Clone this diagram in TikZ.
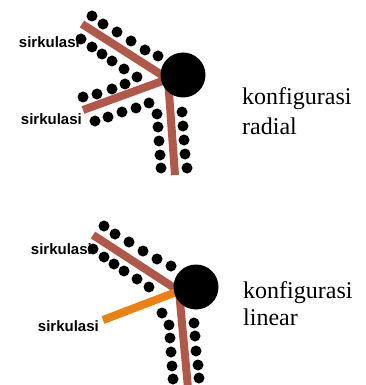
\documentclass[tikz,border=0pt]{standalone}
\usepackage{fontspec}
\setmainfont{Liberation Serif}
\newfontfamily\sirkfont{Liberation Sans}
\usepackage{tikz}
\definecolor{barbrown}{RGB}{176,88,74}
\definecolor{barorange}{RGB}{236,128,16}

\begin{document}
\begin{tikzpicture}[x=1pt, y=-1pt, every node/.style={inner sep=0pt},
	bar/.style={draw=barbrown, line width=8pt},
	hub/.style={circle, fill=black, minimum size=45pt},
	sirk/.style={anchor=east, font=\sirkfont\bfseries\fontsize{15}{17}\selectfont},
	konf/.style={anchor=base west, font=\fontsize{24}{28}\selectfont}]
	\useasboundingbox (0,0) rectangle (365,385);
	% radial
	\coordinate (jA) at (168,79);
	\coordinate (endA1) at (82,24);
	\coordinate (endA2) at (83,110);
	\coordinate (endA3) at (175,175);
	\draw[bar] (endA1) -- (jA);
	\draw[bar] (endA2) -- (jA);
	\draw[bar] (jA) -- (endA3);
	\node[hub] (hubA) at (183,75) {};
	\foreach \x/\y in {92/16,103/24,117/32,131/41,145/50,158/56,
		81/39,92/47,102/54,112/61,124/69,137/77,
		83/97,97/94,112/89,125/84,
		95/121,108/117,122/112,136/108,149/103,
		157/114,158/127,159/141,160/155,161/168,
		182/112,183/126,184/140,185/154,187/168} {\fill (\x,\y) circle (5.5pt);}
	\node[sirk] (sirkA1) at (80,42) {sirkulasi};
	\node[sirk] (sirkA2) at (82,119) {sirkulasi};
	\node[konf] (konfA) at (242,105) {konfigurasi};
	\node[konf] (radial) at (242,134) {radial};
	% linear
	\coordinate (jB) at (179,291);
	\coordinate (endB1) at (93,235);
	\coordinate (endB2) at (103,320);
	\coordinate (endB3) at (188,388);
	\draw[bar] (endB1) -- (jB);
	\draw[bar, draw=barorange] (endB2) -- (jB);
	\draw[bar] (jB) -- (endB3);
	\node[hub] (hubB) at (196,287) {};
	\foreach \x/\y in {104/226,115/234,129/242,143/251,157/259,171/266,
		93/249,104/257,114/264,124/271,137/279,149/287,
		162/313,169/325,170/338,171/352,172/366,173/379,
		194/323,195/336,196/351,198/365,199/378} {\fill (\x,\y) circle (5.5pt);}
	\node[sirk] (sirkB1) at (92,249) {sirkulasi};
	\node[sirk] (sirkB2) at (99,326) {sirkulasi};
	\node[konf] (konfB) at (243,298) {konfigurasi};
	\node[konf] (linear) at (243,325) {linear};
\end{tikzpicture}
\end{document}
